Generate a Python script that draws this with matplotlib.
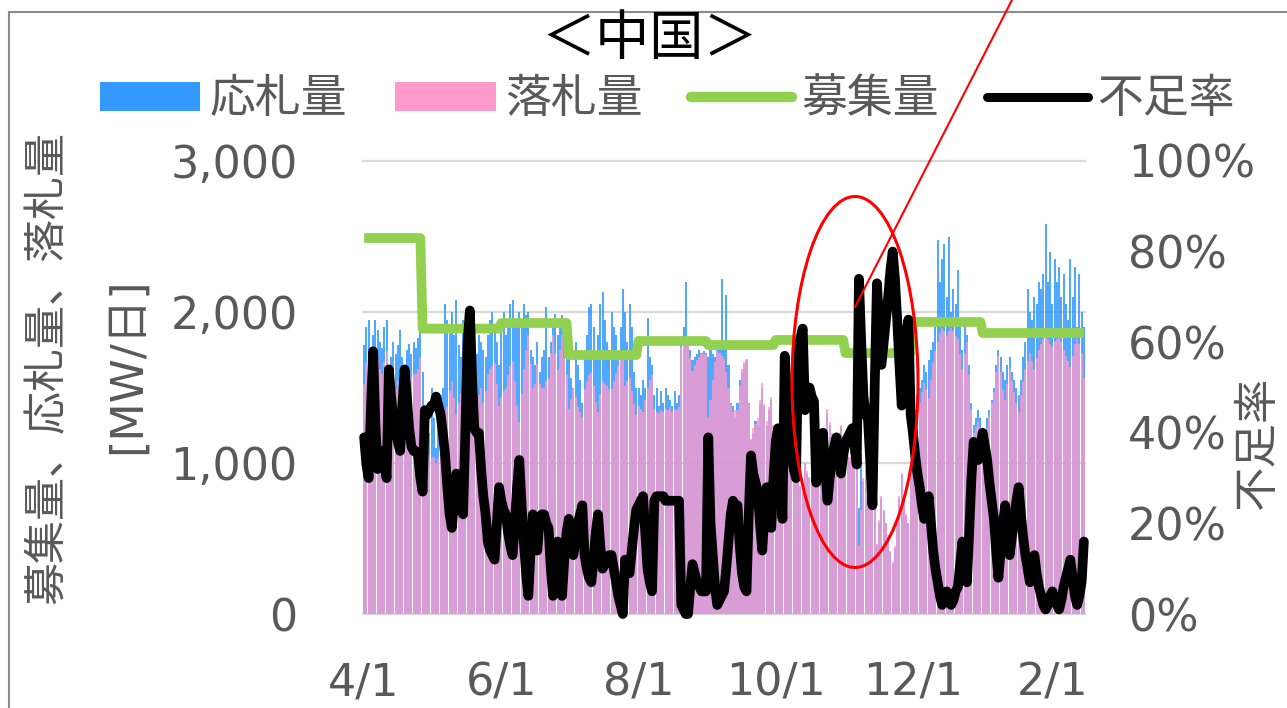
import numpy as np
import matplotlib
matplotlib.use('Agg')
import matplotlib.pyplot as plt
from matplotlib.patches import Patch, Ellipse
from matplotlib.lines import Line2D

plt.rcParams['font.family'] = ['DejaVu Sans', 'Noto Sans CJK JP']

# ---------------- data (daily, 4/1 .. 2/14) ----------------
tick_days = [0, 61, 122, 183, 244, 306]
tick_labels = ['4/1', '6/1', '8/1', '10/1', '12/1', '2/1']

# 募集量 step levels (start day, MW)
recruit_start = [0, 26, 61, 91, 122, 153, 183, 214, 244, 275]
recruit_value = [2490, 1890, 1927, 1715, 1808, 1781, 1815, 1728, 1934, 1861]

# 応札量 [MW/日]
bid = [
    1780, 1900, 1950, 1720, 1850, 1950, 1880, 1800, 1760, 1900,
    1950, 1650, 1700, 1800, 1720, 1780, 1880, 1700, 1650, 1750,
    1790, 1720, 1800, 1760, 1830, 1880, 1600, 1350, 1250, 1200,
    1500, 1300, 1100, 1250, 1450, 1500, 2050, 1950, 1900, 2000,
    1850, 2080, 1780, 1700, 1950, 1900, 1850, 1800, 1900, 1750,
    1720, 1850, 1800, 1750, 1700, 1850, 1950, 2000, 1900, 1800,
    1650, 1950, 2000, 1850, 1900, 2050, 2080, 1950, 1900, 2000,
    1950, 2050, 1980, 2000, 1750, 1700, 1650, 1800, 1600, 1700,
    1750, 2030, 1700, 1800, 1950, 1990, 1850, 1900, 1980, 1900,
    1850, 1700, 1560, 1500, 1800, 1650, 1550, 1400, 1750, 1850,
    2030, 2050, 1900, 1700, 1850, 2050, 2130, 1950, 1800, 1750,
    2000, 1900, 1850, 1700, 1900, 2150, 2000, 1800, 2050, 1900,
    1600, 1500, 1500, 1450, 1550, 1500, 1960, 1700, 1650, 1450,
    1500, 1380, 1480, 1400, 1500, 1450, 1420, 1380, 1480, 1400,
    1450, 1800, 1900, 2200, 1820, 1750, 1680, 1700, 1720, 1750,
    1730, 1740, 1730, 1700, 1750, 1720, 1700, 1750, 1760, 2220,
    1800, 2110, 1650, 1400, 1380, 1300, 1400, 1550, 1600, 1650,
    1680, 1400, 1150, 1200, 1280, 1250, 1400, 1500, 1380, 1250,
    1350, 1420, 1200, 1100, 1050, 1250, 1400, 950, 950, 1080,
    1150, 1200, 1250, 900, 850, 800, 1000, 930, 900, 950,
    940, 1250, 1200, 1120, 1080, 1200, 1330, 1250, 1180, 1130,
    1100, 1150, 1240, 1170, 1050, 1040, 1020, 1000, 1080, 1150,
    700, 1060, 880, 950, 970, 1100, 1280, 850, 460, 600,
    760, 680, 600, 510, 410, 340, 440, 600, 760, 920,
    770, 650, 600, 950, 1300, 1350, 1450, 1500, 1550, 1650,
    1600, 1680, 1750, 1800, 1900, 2480, 2200, 2350, 2450, 2100,
    2500, 2000, 2150, 2050, 2280, 1900, 1750, 1950, 1850, 1650,
    1400, 1250, 1300, 1350, 1300, 1150, 1200, 1300, 1350, 1420,
    1500, 1650, 1750, 1700, 1600, 1550, 1650, 1700, 1600, 1550,
    1500, 1450, 1550, 1700, 1800, 2150, 2000, 1950, 2100, 2050,
    2200, 2150, 2250, 2580, 2200, 2400, 2050, 2350, 2200, 2300,
    2100, 2250, 2050, 1950, 2350, 2100, 2300, 1900, 2250, 2000,
    1900,
]

# 落札量 [MW/日]
award = [
    1520, 1660, 1740, 1450, 1250, 1480, 1690, 1620, 1590, 1670,
    1740, 1300, 1350, 1420, 1490, 1540, 1590, 1400, 1250, 1330,
    1470, 1570, 1590, 1590, 1620, 1700, 1380, 1060, 1080, 1050,
    1030, 1040, 1000, 1030, 1070, 1150, 1240, 1370, 1480, 1540,
    1430, 1320, 1400, 1460, 1480, 1450, 1350, 1200, 1300, 1400,
    1420, 1450, 1500, 1400, 1480, 1590, 1620, 1640, 1660, 1520,
    1380, 1440, 1480, 1500, 1580, 1640, 1675, 1540, 1385, 1270,
    1460, 1620, 1750, 1850, 1655, 1500, 1520, 1655, 1520, 1500,
    1500, 1540, 1560, 1730, 1850, 1730, 1615, 1750, 1850, 1695,
    1580, 1355, 1425, 1490, 1440, 1370, 1340, 1305, 1490, 1545,
    1580, 1595, 1510, 1405, 1340, 1460, 1545, 1525, 1510, 1490,
    1490, 1545, 1595, 1645, 1680, 1715, 1510, 1545, 1560, 1475,
    1390, 1320, 1375, 1360, 1340, 1420, 1500, 1550, 1580, 1360,
    1340, 1330, 1350, 1340, 1360, 1350, 1370, 1340, 1360, 1350,
    1370, 1770, 1790, 1810, 1800, 1700, 1610, 1650, 1680, 1700,
    1720, 1720, 1720, 1300, 1420, 1550, 1670, 1740, 1730, 1710,
    1690, 1600, 1500, 1390, 1335, 1350, 1350, 1510, 1620, 1670,
    1690, 1390, 1160, 1230, 1260, 1300, 1420, 1530, 1390, 1280,
    1370, 1440, 1250, 1125, 1070, 1270, 1435, 950, 945, 1105,
    1180, 1235, 1270, 900, 850, 820, 1000, 945, 910, 945,
    960, 1290, 1215, 1145, 1090, 1235, 1360, 1270, 1200, 1145,
    1105, 1180, 1250, 1180, 1070, 1055, 1040, 1020, 1090, 1160,
    450, 690, 900, 970, 985, 1140, 1315, 865, 465, 620,
    780, 690, 605, 520, 415, 345, 450, 605, 780, 935,
    780, 660, 605, 970, 1160, 1260, 1335, 1395, 1470, 1530,
    1490, 1430, 1550, 1665, 1740, 1800, 1860, 1895, 1875, 1840,
    1875, 1895, 1875, 1840, 1820, 1720, 1625, 1720, 1800, 1585,
    1355, 1200, 1240, 1275, 1220, 1115, 1170, 1230, 1320, 1395,
    1470, 1600, 1710, 1600, 1490, 1415, 1525, 1620, 1545, 1470,
    1395, 1340, 1450, 1545, 1620, 1675, 1730, 1675, 1620, 1695,
    1750, 1785, 1820, 1840, 1820, 1785, 1765, 1805, 1820, 1840,
    1805, 1750, 1710, 1675, 1635, 1710, 1785, 1820, 1785, 1730,
    1560,
]

# 不足率 [%]
shortage = [
    39, 33, 30, 45, 58, 42, 32, 35, 36, 33,
    30, 54, 48, 43, 40, 38, 36, 46, 54, 48,
    41, 37, 36, 36, 35, 30, 27, 45, 44, 45,
    46, 46, 48, 46, 44, 40, 35, 28, 22, 19,
    25, 31, 26, 23, 22, 40, 60, 67, 52, 41,
    40, 40, 32, 26, 22, 16, 14, 13, 12, 20,
    28, 25, 23, 22, 18, 15, 13, 20, 28, 34,
    24, 16, 9, 4, 14, 22, 21, 14, 21, 22,
    22, 20, 19, 10, 4, 10, 16, 9, 4, 12,
    18, 21, 17, 13, 16, 20, 22, 24, 13, 10,
    8, 7, 12, 18, 22, 15, 10, 11, 12, 13,
    13, 10, 7, 4, 2, 0, 12, 10, 9, 14,
    19, 23, 24, 25, 26, 18, 10, 7, 5, 25,
    26, 26, 26, 26, 25, 25, 25, 25, 25, 25,
    25, 2, 1, 0, 0, 6, 11, 9, 7, 6,
    5, 5, 5, 39, 20, 13, 6, 2, 3, 4,
    5, 10, 16, 22, 25, 24, 24, 15, 9, 6,
    5, 22, 35, 31, 29, 27, 20, 14, 22, 28,
    23, 19, 30, 38, 41, 30, 21, 57, 48, 39,
    35, 32, 30, 58, 61, 63, 45, 48, 50, 48,
    47, 29, 33, 37, 40, 32, 25, 30, 34, 37,
    39, 35, 31, 35, 38, 39, 40, 41, 37, 33,
    74, 60, 48, 44, 43, 34, 24, 50, 73, 64,
    55, 60, 65, 70, 76, 80, 74, 65, 55, 46,
    55, 62, 65, 44, 40, 35, 31, 28, 24, 21,
    23, 26, 20, 14, 10, 7, 4, 2, 3, 5,
    3, 2, 3, 5, 6, 11, 16, 11, 7, 18,
    30, 38, 36, 34, 37, 40, 37, 34, 29, 25,
    21, 14, 8, 14, 20, 24, 18, 13, 17, 21,
    25, 28, 22, 17, 13, 10, 7, 10, 13, 9,
    6, 4, 2, 1, 2, 4, 5, 3, 2, 1,
    3, 6, 8, 10, 12, 8, 4, 2, 4, 7,
    16,
]

N = len(bid)
days = np.arange(N)
seg_len = np.diff(recruit_start + [N])
recruit = np.repeat(recruit_value, seg_len)

# ---------------- figure ----------------
W, H = 1287, 708
fig = plt.figure(figsize=(W / 100, H / 100), dpi=100)


def fx(px):
    return px / W


def fy(py):
    return 1 - py / H


GRAY = '#595959'
ax = fig.add_axes([fx(363), fy(614), fx(1085) - fx(363), fy(161) - fy(614)])

ax.bar(days, bid, width=0.9, color='#3399FF', alpha=0.85, linewidth=0, zorder=2)
ax.bar(days, award, width=0.9, color='#FF99CC', alpha=0.78, linewidth=0, zorder=3)
ax.plot(days, recruit, color='#92D050', lw=7.0, zorder=4,
        solid_joinstyle='round', solid_capstyle='butt')

ax.set_xlim(-0.5, N - 0.5)
ax.set_ylim(0, 3000)
ax.set_yticks([0, 1000, 2000, 3000])
ax.set_yticklabels(['0', '1,000', '2,000', '3,000'])
ax.set_xticks(tick_days)
ax.set_xticklabels(tick_labels)
ax.grid(axis='y', color='#D9D9D9', lw=1.6, zorder=0)
ax.set_axisbelow(True)
for gl in ax.get_ygridlines():
    gl.set_clip_on(False)
for s in ax.spines.values():
    s.set_visible(False)
ax.tick_params(axis='y', length=0, pad=47, labelsize=32, labelcolor=GRAY)
ax.tick_params(axis='x', length=0, pad=34, labelsize=32, labelcolor=GRAY)

ax2 = ax.twinx()
ax2.plot(days, np.array(shortage) / 100.0, color='black', lw=7.0, zorder=5,
         solid_joinstyle='round', solid_capstyle='round', clip_on=False)
ax2.set_ylim(0, 1)
ax2.set_xlim(-0.5, N - 0.5)
ax2.set_yticks([0, 0.2, 0.4, 0.6, 0.8, 1.0])
ax2.set_yticklabels(['0%', '20%', '40%', '60%', '80%', '100%'])
for s in ax2.spines.values():
    s.set_visible(False)
ax2.tick_params(axis='y', length=0, pad=31, labelsize=32, labelcolor=GRAY)

# title
fig.text(fx(650), fy(40), '＜中国＞', ha='center', va='center', fontsize=39, color='black')

# legend
handles = [Patch(facecolor='#3399FF', edgecolor='none'),
           Patch(facecolor='#FF99CC', edgecolor='none'),
           Line2D([], [], color='#92D050', lw=7.5, solid_capstyle='round'),
           Line2D([], [], color='black', lw=6.5, solid_capstyle='round')]
labels = ['応札量', '落札量', '募集量', '不足率']
fig.legend(handles, labels, loc='center', bbox_to_anchor=(fx(667), fy(100)),
           ncol=4, frameon=False, fontsize=33, handlelength=2.2, handleheight=0.6,
           handletextpad=0.2, columnspacing=1.05, labelcolor=GRAY,
           borderaxespad=0, borderpad=0)

# axis titles
fig.text(fx(48), fy(368), '募集量、応札量、落札量', rotation=90, ha='center', va='center',
         fontsize=31, color=GRAY)
fig.text(fx(127), fy(366), '[MW/日]', rotation=90, ha='center', va='center',
         fontsize=32, color=GRAY)
fig.text(fx(1258), fy(443), '不足率', rotation=90, ha='center', va='center',
         fontsize=32, color=GRAY)

# outer frame (left and top edges)
fig.add_artist(Line2D([fx(9), fx(9)], [fy(12), 0], color='#8C8C8C', lw=1.5,
                      transform=fig.transFigure))
fig.add_artist(Line2D([fx(9), 1], [fy(12), fy(12)], color='#8C8C8C', lw=1.5,
                      transform=fig.transFigure))

# red annotation
fig.add_artist(Ellipse((fx(855), fy(382)), width=126 / W, height=371 / H,
                       transform=fig.transFigure, fill=False, edgecolor='red',
                       lw=2.2, zorder=10))
fig.add_artist(Line2D([fx(855), fx(1012)], [fy(307), fy(0)], color='red', lw=1.5,
                      transform=fig.transFigure, zorder=10))

fig.savefig('out.png', dpi=100)
